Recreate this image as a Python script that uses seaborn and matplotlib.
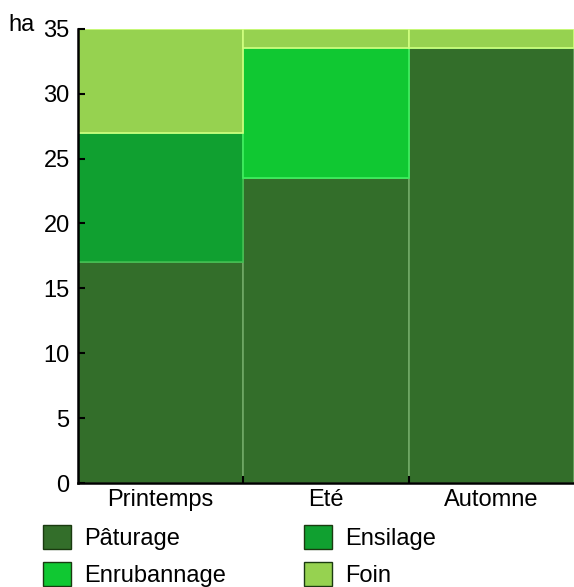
import numpy as np
import matplotlib
matplotlib.use("Agg")
import matplotlib.pyplot as plt
import seaborn as sns
from matplotlib.patches import Patch

sns.set_style("white")
plt.rcParams["font.family"] = ["Liberation Sans", "DejaVu Sans"]
plt.rcParams["text.color"] = "black"
plt.rcParams["xtick.color"] = "black"
plt.rcParams["ytick.color"] = "black"

seasons = ["Printemps", "Eté", "Automne"]
paturage = [17, 23.5, 33.5]
ensilage = [10, 0, 0]
enrubannage = [0, 10, 0]
foin = [8, 1.5, 1.5]

series = ["Pâturage", "Ensilage", "Enrubannage", "Foin"]
values = [paturage, ensilage, enrubannage, foin]
colors = ["#336e2a", "#10a030", "#10c832", "#96d250"]
edges = ["#70a865", "#40c050", "#40f060", "#d0ff80"]

fig = plt.figure(figsize=(5.74, 5.87), dpi=100)
ax = fig.add_axes([0.136, 0.177, 0.864, 0.774])

bottom = np.zeros(len(seasons))
for name, vals, c, ec in zip(series, values, colors, edges):
    sns.barplot(x=seasons, y=vals, bottom=bottom, color=c, width=1.0, saturation=1,
                edgecolor=ec, linewidth=1.2, ax=ax)
    bottom = bottom + np.array(vals)

ax.set_axisbelow(False)
ax.set_ylim(0, 35)
ax.set_xlim(-0.5, 2.5)
ax.set_yticks(range(0, 36, 5))
ax.tick_params(axis="y", labelsize=17, length=5, width=1.5, direction="in",
               left=True, pad=6)
ax.tick_params(axis="x", which="major", labelsize=17, length=0, pad=4)
ax.set_xticks([0.5, 1.5], minor=True)
ax.tick_params(axis="x", which="minor", length=5, width=1.5, direction="in",
               bottom=True)
for s in ["top", "right"]:
    ax.spines[s].set_visible(False)
for s in ["left", "bottom"]:
    ax.spines[s].set_color("black")
    ax.spines[s].set_linewidth(1.8)
ax.set_ylabel("")
fig.text(0.014, 0.957, "ha", fontsize=17, va="center", ha="left")

# legend filled row by row like the original
order = [0, 2, 1, 3]
handles = [Patch(facecolor=colors[i], edgecolor="#1a3a10", linewidth=1.0) for i in order]
labels = [series[i] for i in order]
fig.legend(handles, labels, ncol=2, loc="lower left", bbox_to_anchor=(0.075, 0.0),
           frameon=False, fontsize=17, handlelength=1.2, handleheight=1.2,
           handletextpad=0.55, columnspacing=3.3, labelspacing=0.5,
           borderpad=0, borderaxespad=0)

fig.savefig("out.png", dpi=100)
